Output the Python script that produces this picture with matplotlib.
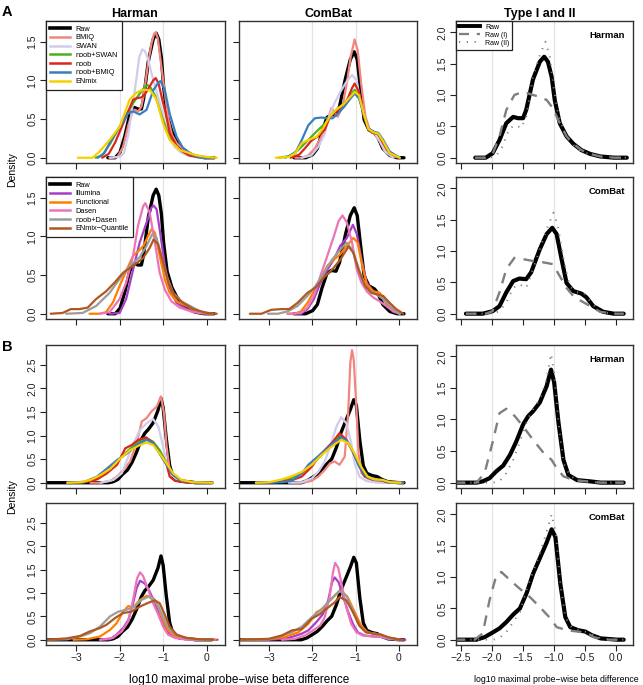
import matplotlib.pyplot as plt
from matplotlib.lines import Line2D

plt.rcParams['font.family'] = ['Liberation Sans', 'DejaVu Sans']
plt.rcParams['axes.unicode_minus'] = True

# ---------------- data: (log10 diff, density) ----------------
# Raw, set A (Harman / ComBat) with type I / type II probes
raw_harman_a = [(-2.27, 0), (-2.1, 0.0), (-1.99, 0.07), (-1.88, 0.28), (-1.77, 0.55), (-1.66, 0.65), (-1.58, 0.63),
                (-1.5, 0.63), (-1.45, 0.76), (-1.34, 1.25), (-1.23, 1.53), (-1.16, 1.61), (-1.1, 1.53), (-1.04, 1.29),
                (-0.99, 0.92), (-0.91, 0.55), (-0.8, 0.34), (-0.69, 0.22), (-0.56, 0.12), (-0.42, 0.06), (-0.26, 0.02),
                (-0.04, 0.0), (0.17, 0.0)]
raw_harman_a_i = [(-2.27, 0), (-2.1, 0.0), (-1.99, 0.06), (-1.88, 0.34), (-1.77, 0.76), (-1.64, 1.0), (-1.5, 1.05),
                  (-1.34, 1.0), (-1.23, 0.97), (-1.12, 0.92), (-1.02, 0.79), (-0.91, 0.55), (-0.8, 0.34), (-0.69, 0.22),
                  (-0.56, 0.12), (-0.42, 0.06), (-0.26, 0.02), (-0.04, 0.0), (0.17, 0.0)]
raw_harman_a_ii = [(-2.27, 0), (-2.05, 0.0), (-1.94, 0.02), (-1.83, 0.18), (-1.72, 0.47), (-1.61, 0.52), (-1.53, 0.47),
                   (-1.45, 0.65), (-1.34, 1.29), (-1.23, 1.64), (-1.14, 1.85), (-1.07, 1.61), (-1.01, 1.13),
                   (-0.94, 0.71), (-0.85, 0.44), (-0.75, 0.26), (-0.6, 0.12), (-0.42, 0.05), (-0.2, 0.01), (0.17, 0.0)]
raw_combat_a = [(-2.42, 0), (-2.15, 0.0), (-1.99, 0.04), (-1.88, 0.12), (-1.77, 0.34), (-1.66, 0.52), (-1.56, 0.56),
                (-1.45, 0.55), (-1.37, 0.66), (-1.23, 1.03), (-1.12, 1.27), (-1.03, 1.37), (-0.96, 1.27), (-0.88, 0.87),
                (-0.8, 0.49), (-0.69, 0.36), (-0.56, 0.32), (-0.48, 0.26), (-0.37, 0.12), (-0.21, 0.03), (-0.04, 0.0),
                (0.12, 0.0)]
raw_combat_a_i = [(-2.42, 0), (-2.1, 0.0), (-1.99, 0.04), (-1.88, 0.34), (-1.77, 0.71), (-1.64, 0.89), (-1.5, 0.87),
                  (-1.34, 0.84), (-1.18, 0.82), (-1.02, 0.79), (-0.91, 0.6), (-0.8, 0.41), (-0.69, 0.28), (-0.56, 0.2),
                  (-0.42, 0.12), (-0.26, 0.03), (-0.04, 0.0), (0.12, 0.0)]
raw_combat_a_ii = [(-2.42, 0), (-2.0, 0.0), (-1.88, 0.04), (-1.77, 0.18), (-1.66, 0.41), (-1.56, 0.47), (-1.45, 0.41),
                   (-1.34, 0.71), (-1.23, 1.03), (-1.1, 1.4), (-1.01, 1.61), (-0.94, 1.4), (-0.85, 0.87), (-0.75, 0.44),
                   (-0.64, 0.34), (-0.53, 0.34), (-0.42, 0.2), (-0.26, 0.03), (-0.04, 0.0), (0.12, 0.0)]

# Raw, set B
raw_harman_b = [(-3.7, 0), (-2.25, 0.0), (-2.15, 0.02), (-2.04, 0.07), (-1.93, 0.18), (-1.82, 0.27), (-1.71, 0.44),
                (-1.61, 0.65), (-1.5, 0.92), (-1.42, 1.05), (-1.34, 1.13), (-1.23, 1.27), (-1.12, 1.53), (-1.05, 1.79),
                (-1.0, 1.59), (-0.93, 0.95), (-0.85, 0.36), (-0.77, 0.12), (-0.63, 0.04), (-0.42, 0.02), (-0.25, 0.0),
                (0.12, 0.0)]
raw_harman_b_i = [(-2.6, 0), (-2.25, 0.0), (-2.12, 0.15), (-1.98, 0.68), (-1.88, 1.1), (-1.77, 1.17), (-1.63, 1.05),
                  (-1.5, 0.89), (-1.34, 0.68), (-1.17, 0.47), (-1.04, 0.36), (-0.96, 0.23), (-0.85, 0.1), (-0.69, 0.04),
                  (-0.47, 0.02), (-0.25, 0.0), (0.12, 0.0)]
raw_harman_b_ii = [(-2.6, 0), (-1.98, 0.0), (-1.88, 0.02), (-1.77, 0.15), (-1.66, 0.36), (-1.55, 0.65), (-1.44, 0.97),
                   (-1.34, 1.16), (-1.23, 1.32), (-1.12, 1.64), (-1.05, 2.04), (-1.0, 1.74), (-0.93, 0.95),
                   (-0.85, 0.31), (-0.74, 0.1), (-0.58, 0.03), (-0.3, 0.0), (0.12, 0.0)]
raw_combat_b = [(-3.7, 0), (-2.25, 0.0), (-2.12, 0.04), (-1.98, 0.12), (-1.88, 0.18), (-1.77, 0.28), (-1.66, 0.4),
                (-1.55, 0.5), (-1.44, 0.75), (-1.34, 1.05), (-1.23, 1.3), (-1.12, 1.55), (-1.04, 1.76), (-0.98, 1.64),
                (-0.9, 0.89), (-0.82, 0.36), (-0.74, 0.2), (-0.61, 0.15), (-0.5, 0.13), (-0.39, 0.07), (-0.25, 0.02),
                (0.02, 0.0), (0.12, 0.0)]
raw_combat_b_i = [(-2.6, 0), (-2.28, 0.0), (-2.15, 0.1), (-2.04, 0.63), (-1.93, 1.03), (-1.85, 1.08), (-1.71, 0.95),
                  (-1.55, 0.81), (-1.39, 0.68), (-1.23, 0.52), (-1.06, 0.34), (-0.96, 0.2), (-0.79, 0.15),
                  (-0.63, 0.13), (-0.47, 0.11), (-0.36, 0.04), (-0.2, 0.0), (0.12, 0.0)]
raw_combat_b_ii = [(-2.6, 0), (-1.98, 0.0), (-1.88, 0.03), (-1.77, 0.12), (-1.66, 0.28), (-1.55, 0.44), (-1.44, 0.81),
                   (-1.34, 1.08), (-1.23, 1.37), (-1.12, 1.72), (-1.04, 2.0), (-0.97, 1.69), (-0.9, 0.89),
                   (-0.82, 0.36), (-0.71, 0.18), (-0.58, 0.15), (-0.47, 0.12), (-0.31, 0.04), (-0.1, 0.0), (0.12, 0.0)]

# method group 1, set A
bmiq_harman_a = [(-2.23, 0), (-2.05, 0.01), (-1.92, 0.14), (-1.8, 0.42), (-1.7, 0.6), (-1.65, 0.62), (-1.57, 0.6),
                 (-1.5, 0.66), (-1.45, 0.8), (-1.35, 1.2), (-1.27, 1.47), (-1.21, 1.6), (-1.17, 1.62), (-1.12, 1.54),
                 (-1.05, 1.22), (-0.96, 0.83), (-0.88, 0.5), (-0.8, 0.3), (-0.69, 0.19), (-0.55, 0.11), (-0.46, 0.07),
                 (-0.3, 0.02), (-0.15, 0.0), (0.15, 0.0)]
swan_harman_a = [(-2.23, 0), (-2.0, 0.01), (-1.9, 0.06), (-1.8, 0.3), (-1.72, 0.6), (-1.62, 1.0), (-1.55, 1.3),
                 (-1.48, 1.4), (-1.42, 1.38), (-1.35, 1.28), (-1.27, 1.1), (-1.2, 0.95), (-1.12, 0.8), (-1.05, 0.65),
                 (-0.96, 0.45), (-0.88, 0.3), (-0.75, 0.15), (-0.6, 0.07), (-0.45, 0.03), (-0.3, 0.01), (-0.15, 0.0),
                 (0.15, 0.0)]
noobswan_harman_a = [(-2.55, 0), (-2.4, 0.03), (-2.23, 0.17), (-2.0, 0.4), (-1.85, 0.55), (-1.7, 0.7), (-1.55, 0.82),
                     (-1.42, 0.92), (-1.36, 0.94), (-1.28, 0.9), (-1.18, 0.8), (-1.08, 0.62), (-0.98, 0.45),
                     (-0.88, 0.3), (-0.75, 0.18), (-0.6, 0.1), (-0.45, 0.05), (-0.3, 0.02), (-0.1, 0.0), (0.15, 0.0)]
noob_harman_a = [(-2.4, 0), (-2.25, 0.05), (-2.1, 0.2), (-1.95, 0.4), (-1.8, 0.6), (-1.69, 0.75), (-1.6, 0.77),
                 (-1.5, 0.78), (-1.42, 0.82), (-1.31, 0.92), (-1.23, 1.0), (-1.17, 1.03), (-1.1, 0.95), (-1.02, 0.75),
                 (-0.96, 0.62), (-0.85, 0.32), (-0.69, 0.15), (-0.55, 0.08), (-0.4, 0.03), (-0.2, 0.01), (0.15, 0.0)]
noobbmiq_harman_a = [(-2.5, 0), (-2.35, 0.06), (-2.23, 0.19), (-2.0, 0.4), (-1.81, 0.57), (-1.69, 0.6), (-1.54, 0.56),
                     (-1.38, 0.62), (-1.23, 0.87), (-1.1, 0.98), (-1.06, 0.99), (-0.96, 0.87), (-0.85, 0.57),
                     (-0.69, 0.27), (-0.55, 0.13), (-0.46, 0.09), (-0.3, 0.03), (-0.1, 0.0), (0.15, 0.0)]
enmix_harman_a = [(-2.96, 0), (-2.62, 0.0), (-2.46, 0.08), (-2.23, 0.23), (-2.0, 0.4), (-1.77, 0.75), (-1.62, 0.84),
                  (-1.46, 0.88), (-1.3, 0.87), (-1.27, 0.85), (-1.15, 0.75), (-1.0, 0.44), (-0.85, 0.23),
                  (-0.62, 0.1), (-0.23, 0.03), (0.0, 0.01), (0.23, 0.0)]

bmiq_combat_a = [(-2.39, 0), (-2.24, 0.0), (-2.09, 0.03), (-1.94, 0.12), (-1.79, 0.27), (-1.68, 0.42), (-1.56, 0.64),
                 (-1.49, 0.59), (-1.41, 0.53), (-1.3, 0.66), (-1.19, 1.0), (-1.11, 1.31), (-1.02, 1.53), (-0.95, 1.39),
                 (-0.87, 0.96), (-0.77, 0.53), (-0.66, 0.34), (-0.55, 0.31), (-0.44, 0.23), (-0.32, 0.1),
                 (-0.17, 0.02), (0.02, 0.0)]
swan_combat_a = [(-2.24, 0), (-2.02, 0.03), (-1.86, 0.14), (-1.71, 0.31), (-1.6, 0.55), (-1.49, 0.7), (-1.34, 0.86),
                 (-1.19, 1.0), (-1.08, 1.07), (-0.98, 1.0), (-0.89, 0.75), (-0.77, 0.49), (-0.66, 0.34), (-0.55, 0.31),
                 (-0.44, 0.21), (-0.32, 0.08), (-0.13, 0.0)]
noobswan_combat_a = [(-2.77, 0), (-2.54, 0.02), (-2.32, 0.1), (-2.09, 0.23), (-1.9, 0.34), (-1.71, 0.44),
                     (-1.56, 0.55), (-1.41, 0.64), (-1.26, 0.7), (-1.11, 0.81), (-1.02, 0.88), (-0.92, 0.79),
                     (-0.81, 0.55), (-0.7, 0.36), (-0.59, 0.32), (-0.47, 0.31), (-0.36, 0.19), (-0.21, 0.06),
                     (0.02, 0.0)]
noob_combat_a = [(-2.5, 0), (-2.3, 0.04), (-2.17, 0.12), (-2.02, 0.22), (-1.86, 0.28), (-1.71, 0.36), (-1.6, 0.52),
                 (-1.49, 0.58), (-1.34, 0.64), (-1.19, 0.75), (-1.08, 0.9), (-1.02, 0.96), (-0.92, 0.85),
                 (-0.81, 0.55), (-0.7, 0.36), (-0.59, 0.32), (-0.47, 0.31), (-0.36, 0.19), (-0.21, 0.06), (0.02, 0.0)]
noobbmiq_combat_a = [(-2.62, 0), (-2.39, 0.06), (-2.24, 0.23), (-2.09, 0.42), (-1.94, 0.51), (-1.79, 0.52),
                     (-1.64, 0.51), (-1.53, 0.51), (-1.41, 0.57), (-1.26, 0.66), (-1.11, 0.77), (-1.02, 0.83),
                     (-0.92, 0.77), (-0.81, 0.57), (-0.7, 0.38), (-0.59, 0.34), (-0.47, 0.32), (-0.36, 0.23),
                     (-0.21, 0.08), (0.02, 0.0)]
enmix_combat_a = [(-2.84, 0), (-2.54, 0.01), (-2.39, 0.06), (-2.24, 0.19), (-2.09, 0.23), (-1.9, 0.27), (-1.75, 0.38),
                  (-1.6, 0.53), (-1.45, 0.62), (-1.3, 0.68), (-1.15, 0.77), (-1.02, 0.85), (-0.92, 0.81),
                  (-0.81, 0.57), (-0.7, 0.37), (-0.59, 0.33), (-0.47, 0.31), (-0.36, 0.21), (-0.21, 0.06), (0.02, 0.0)]

# method group 2, set A
illumina_harman_a = [(-2.23, 0), (-2.0, 0.01), (-1.85, 0.19), (-1.69, 0.57), (-1.54, 0.92), (-1.38, 1.18),
                     (-1.27, 1.37), (-1.22, 1.4), (-1.15, 1.35), (-1.08, 1.09), (-0.96, 0.62), (-0.85, 0.31),
                     (-0.69, 0.14), (-0.46, 0.06), (-0.15, 0.01), (0.15, 0.0)]
functional_harman_a = [(-2.69, 0), (-2.46, 0.0), (-2.31, 0.02), (-2.15, 0.15), (-2.0, 0.36), (-1.85, 0.55),
                       (-1.69, 0.75), (-1.55, 0.82), (-1.45, 0.88), (-1.35, 1.0), (-1.27, 1.09), (-1.19, 1.05),
                       (-1.08, 0.75), (-0.96, 0.44), (-0.85, 0.27), (-0.69, 0.16), (-0.46, 0.1), (-0.23, 0.03),
                       (0.08, 0.0)]
dasen_harman_a = [(-2.46, 0), (-2.23, 0.02), (-2.0, 0.19), (-1.85, 0.4), (-1.69, 0.75), (-1.58, 1.13), (-1.46, 1.39),
                  (-1.41, 1.43), (-1.31, 1.31), (-1.19, 0.92), (-1.08, 0.53), (-0.96, 0.31), (-0.81, 0.16),
                  (-0.62, 0.08), (-0.31, 0.02), (0.0, 0.0)]
noobdasen_harman_a = [(-3.23, 0), (-2.85, 0.01), (-2.54, 0.1), (-2.23, 0.27), (-2.0, 0.45), (-1.77, 0.62),
                      (-1.54, 0.73), (-1.38, 0.88), (-1.25, 1.03), (-1.15, 0.98), (-1.04, 0.75), (-0.92, 0.49),
                      (-0.77, 0.27), (-0.58, 0.16), (-0.38, 0.1), (-0.15, 0.03), (0.15, 0.0)]
enmixq_harman_a = [(-3.58, 0), (-3.31, 0.01), (-3.12, 0.06), (-2.92, 0.06), (-2.73, 0.08), (-2.54, 0.19),
                   (-2.31, 0.29), (-2.12, 0.4), (-1.92, 0.53), (-1.69, 0.62), (-1.46, 0.72), (-1.31, 0.85),
                   (-1.22, 0.96), (-1.12, 0.9), (-1.0, 0.66), (-0.88, 0.4), (-0.73, 0.23), (-0.54, 0.14),
                   (-0.31, 0.06), (0.0, 0.01), (0.23, 0.0)]

illumina_combat_a = [(-2.41, 0), (-2.26, 0.0), (-2.11, 0.06), (-1.96, 0.19), (-1.81, 0.4), (-1.65, 0.57),
                     (-1.5, 0.7), (-1.35, 0.88), (-1.2, 0.98), (-1.06, 1.15), (-0.97, 1.03), (-0.86, 0.7),
                     (-0.74, 0.4), (-0.59, 0.29), (-0.44, 0.25), (-0.29, 0.14), (-0.13, 0.03), (0.02, 0.0)]
functional_combat_a = [(-2.57, 0), (-2.41, 0.0), (-2.26, 0.03), (-2.11, 0.14), (-1.96, 0.29), (-1.81, 0.44),
                       (-1.65, 0.62), (-1.5, 0.7), (-1.35, 0.77), (-1.2, 0.88), (-1.05, 0.98), (-0.95, 0.92),
                       (-0.86, 0.66), (-0.74, 0.38), (-0.59, 0.29), (-0.44, 0.27), (-0.29, 0.14), (-0.13, 0.05),
                       (0.02, 0.0)]
dasen_combat_a = [(-2.57, 0), (-2.26, 0.01), (-2.11, 0.08), (-1.96, 0.23), (-1.81, 0.49), (-1.65, 0.75), (-1.5, 1.0),
                  (-1.39, 1.2), (-1.3, 1.27), (-1.2, 1.18), (-1.08, 0.92), (-0.97, 0.57), (-0.86, 0.4), (-0.74, 0.29),
                  (-0.59, 0.21), (-0.44, 0.16), (-0.29, 0.1), (-0.13, 0.03), (0.02, 0.0)]
noobdasen_combat_a = [(-3.02, 0), (-2.79, 0.0), (-2.57, 0.03), (-2.34, 0.1), (-2.11, 0.23), (-1.92, 0.36),
                      (-1.73, 0.53), (-1.54, 0.7), (-1.35, 0.83), (-1.21, 0.92), (-1.08, 0.83), (-0.97, 0.66),
                      (-0.82, 0.4), (-0.67, 0.29), (-0.51, 0.25), (-0.36, 0.19), (-0.17, 0.08), (0.02, 0.0)]
enmixq_combat_a = [(-3.44, 0), (-3.17, 0.0), (-2.95, 0.05), (-2.72, 0.06), (-2.53, 0.06), (-2.34, 0.14),
                   (-2.11, 0.27), (-1.92, 0.34), (-1.73, 0.47), (-1.54, 0.57), (-1.35, 0.7), (-1.16, 0.87),
                   (-1.05, 0.79), (-0.93, 0.57), (-0.78, 0.36), (-0.63, 0.27), (-0.51, 0.25), (-0.36, 0.23),
                   (-0.21, 0.14), (-0.06, 0.06), (0.1, 0.0)]

# method group 1, set B
bmiq_harman_b = [(-2.67, 0), (-2.44, 0.0), (-2.21, 0.04), (-2.06, 0.13), (-1.91, 0.27), (-1.76, 0.45), (-1.61, 0.84),
                 (-1.49, 1.3), (-1.38, 1.37), (-1.27, 1.51), (-1.15, 1.61), (-1.05, 1.83), (-0.98, 1.47),
                 (-0.92, 0.76), (-0.85, 0.27), (-0.73, 0.09), (-0.55, 0.02), (-0.25, 0.0), (0.12, 0.0)]
swan_harman_b = [(-2.44, 0), (-2.14, 0.06), (-1.95, 0.2), (-1.8, 0.55), (-1.68, 0.84), (-1.53, 1.12), (-1.38, 1.26),
                 (-1.23, 1.35), (-1.11, 1.19), (-1.0, 0.76), (-0.92, 0.41), (-0.81, 0.16), (-0.62, 0.04),
                 (-0.32, 0.0)]
noobswan_harman_b = [(-3.2, 0), (-2.82, 0.01), (-2.52, 0.09), (-2.29, 0.27), (-2.06, 0.45), (-1.83, 0.66),
                     (-1.61, 0.84), (-1.38, 0.94), (-1.23, 0.87), (-1.08, 0.69), (-0.92, 0.41), (-0.81, 0.2),
                     (-0.62, 0.06), (-0.32, 0.01), (0.14, 0.0)]
noob_harman_b = [(-3.2, 0), (-2.8, 0.01), (-2.52, 0.07), (-2.29, 0.2), (-2.06, 0.38), (-1.87, 0.73), (-1.72, 0.8),
                 (-1.57, 0.91), (-1.39, 0.96), (-1.23, 0.84), (-1.08, 0.62), (-0.92, 0.38), (-0.85, 0.13),
                 (-0.73, 0.04), (-0.46, 0.0), (0.14, 0.0)]
noobbmiq_harman_b = [(-3.2, 0), (-2.8, 0.02), (-2.52, 0.13), (-2.29, 0.3), (-2.06, 0.48), (-1.83, 0.62),
                     (-1.61, 0.8), (-1.38, 0.91), (-1.23, 0.84), (-1.08, 0.62), (-0.92, 0.38), (-0.77, 0.16),
                     (-0.58, 0.04), (-0.2, 0.0), (0.14, 0.0)]
enmix_harman_b = [(-3.2, 0), (-2.89, 0.01), (-2.67, 0.06), (-2.44, 0.16), (-2.21, 0.3), (-1.98, 0.52), (-1.76, 0.69),
                  (-1.53, 0.8), (-1.38, 0.85), (-1.23, 0.8), (-1.08, 0.62), (-0.92, 0.41), (-0.77, 0.2),
                  (-0.58, 0.06), (-0.32, 0.01), (0.14, 0.0)]

bmiq_combat_b = [(-2.47, 0), (-2.24, 0.0), (-2.01, 0.04), (-1.86, 0.13), (-1.71, 0.27), (-1.59, 0.41), (-1.48, 0.45),
                 (-1.37, 0.38), (-1.25, 0.55), (-1.17, 1.47), (-1.12, 2.54), (-1.08, 2.81), (-1.04, 2.6),
                 (-0.98, 1.61), (-0.93, 0.62), (-0.86, 0.2), (-0.72, 0.09), (-0.57, 0.04), (-0.34, 0.0), (0.1, 0.0)]
swan_combat_b = [(-2.54, 0), (-2.24, 0.01), (-2.01, 0.09), (-1.86, 0.23), (-1.71, 0.45), (-1.56, 0.84), (-1.44, 1.19),
                 (-1.33, 1.39), (-1.21, 1.26), (-1.1, 0.84), (-1.02, 0.41), (-0.91, 0.13), (-0.76, 0.04),
                 (-0.5, 0.0), (0.1, 0.0)]
noobswan_combat_b = [(-3.3, 0), (-2.85, 0.01), (-2.54, 0.07), (-2.24, 0.2), (-2.01, 0.38), (-1.78, 0.59),
                     (-1.56, 0.8), (-1.37, 1.01), (-1.21, 0.91), (-1.06, 0.66), (-0.91, 0.34), (-0.76, 0.13),
                     (-0.57, 0.06), (-0.41, 0.06), (-0.26, 0.01), (0.1, 0.0)]
noob_combat_b = [(-3.3, 0), (-2.7, 0.02), (-2.45, 0.06), (-2.24, 0.13), (-2.01, 0.34), (-1.82, 0.59), (-1.67, 0.73),
                 (-1.52, 0.87), (-1.37, 1.05), (-1.21, 0.91), (-1.06, 0.66), (-0.91, 0.34), (-0.79, 0.13),
                 (-0.57, 0.06), (-0.41, 0.05), (-0.26, 0.01), (0.1, 0.0)]
noobbmiq_combat_b = [(-3.3, 0), (-2.7, 0.01), (-2.47, 0.04), (-2.24, 0.2), (-2.09, 0.38), (-1.9, 0.53),
                     (-1.71, 0.68), (-1.52, 0.84), (-1.33, 0.96), (-1.21, 0.9), (-1.06, 0.66), (-0.91, 0.34),
                     (-0.76, 0.13), (-0.57, 0.06), (-0.41, 0.06), (-0.26, 0.01), (0.1, 0.0)]
enmix_combat_b = [(-3.3, 0), (-3.0, 0.01), (-2.7, 0.07), (-2.47, 0.14), (-2.24, 0.23), (-2.01, 0.38), (-1.78, 0.59),
                  (-1.56, 0.76), (-1.33, 0.91), (-1.17, 0.84), (-1.02, 0.62), (-0.87, 0.34), (-0.72, 0.13),
                  (-0.57, 0.07), (-0.38, 0.06), (-0.19, 0.01), (0.04, 0.0)]

# method group 2, set B
illumina_harman_b = [(-2.45, 0), (-2.22, 0.01), (-2.07, 0.11), (-1.92, 0.25), (-1.8, 0.42), (-1.69, 0.78),
                     (-1.61, 1.1), (-1.53, 1.26), (-1.42, 1.2), (-1.31, 1.03), (-1.19, 0.78), (-1.08, 0.5),
                     (-0.96, 0.25), (-0.85, 0.11), (-0.69, 0.04), (-0.47, 0.01), (-0.16, 0.0), (0.25, 0.0)]
functional_harman_b = [(-3.06, 0), (-2.76, 0.01), (-2.45, 0.07), (-2.22, 0.21), (-2.07, 0.35), (-1.92, 0.6),
                       (-1.8, 0.72), (-1.69, 0.69), (-1.53, 0.85), (-1.38, 0.94), (-1.23, 0.89), (-1.11, 0.71),
                       (-1.0, 0.42), (-0.89, 0.21), (-0.73, 0.08), (-0.47, 0.03), (-0.05, 0.0), (0.2, 0.0)]
dasen_harman_b = [(-2.45, 0), (-2.15, 0.04), (-1.95, 0.18), (-1.8, 0.39), (-1.69, 0.85), (-1.6, 1.31), (-1.53, 1.44),
                  (-1.46, 1.36), (-1.34, 1.06), (-1.23, 0.78), (-1.11, 0.53), (-1.0, 0.28), (-0.89, 0.11),
                  (-0.73, 0.04), (-0.47, 0.0), (0.1, 0.0)]
noobdasen_harman_b = [(-3.67, 0), (-3.21, 0.01), (-2.91, 0.07), (-2.68, 0.14), (-2.45, 0.28), (-2.22, 0.5),
                      (-2.03, 0.6), (-1.84, 0.64), (-1.65, 0.71), (-1.5, 0.85), (-1.34, 0.92), (-1.19, 0.85),
                      (-1.04, 0.57), (-0.92, 0.32), (-0.77, 0.14), (-0.58, 0.06), (-0.31, 0.01), (0.15, 0.0)]
enmixq_harman_b = [(-3.67, 0), (-3.21, 0.03), (-2.91, 0.08), (-2.68, 0.18), (-2.45, 0.25), (-2.3, 0.32),
                   (-2.11, 0.46), (-1.92, 0.57), (-1.73, 0.6), (-1.53, 0.71), (-1.34, 0.79), (-1.19, 0.84),
                   (-1.08, 0.78), (-0.96, 0.53), (-0.85, 0.28), (-0.69, 0.11), (-0.47, 0.04), (-0.16, 0.01),
                   (0.15, 0.0)]

illumina_combat_b = [(-3.64, 0), (-3.0, 0.0), (-2.7, 0.02), (-2.47, 0.06), (-2.24, 0.13), (-2.09, 0.2), (-1.9, 0.38),
                     (-1.75, 0.55), (-1.63, 0.84), (-1.54, 1.23), (-1.48, 1.33), (-1.39, 1.23), (-1.29, 0.94),
                     (-1.18, 0.62), (-1.06, 0.34), (-0.95, 0.16), (-0.79, 0.09), (-0.56, 0.07), (-0.41, 0.06),
                     (-0.26, 0.02), (0.05, 0.0), (0.15, 0.0)]
functional_combat_b = [(-3.64, 0), (-3.0, 0.01), (-2.63, 0.06), (-2.32, 0.16), (-2.09, 0.34), (-1.9, 0.59),
                       (-1.75, 0.66), (-1.6, 0.84), (-1.44, 0.98), (-1.33, 1.05), (-1.18, 0.91), (-1.02, 0.59),
                       (-0.87, 0.3), (-0.72, 0.16), (-0.56, 0.13), (-0.41, 0.09), (-0.26, 0.04), (0.0, 0.0)]
dasen_combat_b = [(-2.7, 0), (-2.4, 0.02), (-2.17, 0.09), (-1.98, 0.2), (-1.82, 0.3), (-1.71, 0.48), (-1.6, 0.91),
                  (-1.52, 1.44), (-1.47, 1.64), (-1.4, 1.54), (-1.33, 1.23), (-1.21, 0.69), (-1.1, 0.34),
                  (-0.98, 0.16), (-0.83, 0.09), (-0.6, 0.07), (-0.41, 0.06), (-0.22, 0.02), (0.05, 0.0)]
noobdasen_combat_b = [(-3.64, 0), (-3.0, 0.01), (-2.7, 0.09), (-2.47, 0.16), (-2.24, 0.28), (-2.01, 0.48),
                      (-1.82, 0.62), (-1.63, 0.8), (-1.48, 0.94), (-1.37, 1.05), (-1.21, 0.94), (-1.06, 0.62),
                      (-0.91, 0.3), (-0.76, 0.16), (-0.56, 0.13), (-0.41, 0.11), (-0.26, 0.04), (0.0, 0.0)]
enmixq_combat_b = [(-3.64, 0), (-3.0, 0.02), (-2.7, 0.09), (-2.47, 0.2), (-2.24, 0.23), (-2.01, 0.45), (-1.82, 0.55),
                   (-1.63, 0.69), (-1.48, 0.8), (-1.37, 0.91), (-1.21, 0.84), (-1.06, 0.59), (-0.91, 0.3),
                   (-0.76, 0.16), (-0.56, 0.13), (-0.41, 0.11), (-0.26, 0.06), (0.0, 0.0), (0.1, 0.0)]

labels_1 = ['Raw', 'BMIQ', 'SWAN', 'noob+SWAN', 'noob', 'noob+BMIQ', 'ENmix']
colors_1 = ['black', '#F4857E', '#CFCDEB', '#4DB01F', '#D9261F', '#3A7EC0', '#F7D000']
labels_2 = ['Raw', 'Illumina', 'Functional', 'Dasen', 'noob+Dasen', 'ENmix\u2212Quantile']
colors_2 = ['black', '#A83EC6', '#FF7F00', '#EC74B8', '#9C9C9C', '#B0581F']

# ---------------- layout (pixel boxes) ----------------
W, H = 643, 685
fig = plt.figure(figsize=(W / 100, H / 100), dpi=100)

cols = [(46, 225), (239, 417), (456, 633)]
rows = [(21, 163), (177, 319), (345, 488), (503, 645)]


def make_ax(c, r):
    x0, x1 = cols[c]
    y0, y1 = rows[r]
    return fig.add_axes([x0 / W, 1 - y1 / H, (x1 - x0) / W, (y1 - y0) / H])


def minus(v, fmt):
    return (fmt % v).replace('-', '\u2212')


def style(ax, xlim, ylim, xticks, yticks, show_x, show_y, xfmt):
    ax.set_xlim(xlim)
    ax.set_ylim(ylim)
    for gx in (-2, -1):
        ax.axvline(gx, color='#E4E4E4', lw=0.9, zorder=0)
    ax.set_xticks(xticks)
    ax.set_yticks(yticks)
    ax.tick_params(direction='out', length=4, width=0.8, labelsize=7.5, pad=2, colors='#222222')
    if show_x:
        ax.set_xticklabels([minus(v, xfmt) for v in xticks])
    else:
        ax.set_xticklabels([])
    if show_y:
        ax.set_yticklabels(['%.1f' % v for v in yticks], rotation=90, va='center')
    else:
        ax.set_yticklabels([])
    for s in ax.spines.values():
        s.set_linewidth(1.0)
        s.set_color('#333333')


def line(ax, pts, color, lw, ls='-'):
    xs, ys = zip(*pts)
    ax.plot(xs, ys, color=color, lw=lw, ls=ls, solid_capstyle='round', solid_joinstyle='round')


left_panels = [
    (0, 0, raw_harman_a, [bmiq_harman_a, swan_harman_a, noobswan_harman_a, noob_harman_a, noobbmiq_harman_a,
                          enmix_harman_a], 1, True),
    (0, 1, raw_combat_a, [bmiq_combat_a, swan_combat_a, noobswan_combat_a, noob_combat_a, noobbmiq_combat_a,
                          enmix_combat_a], 1, False),
    (1, 0, raw_harman_a, [illumina_harman_a, functional_harman_a, dasen_harman_a, noobdasen_harman_a,
                          enmixq_harman_a], 2, True),
    (1, 1, raw_combat_a, [illumina_combat_a, functional_combat_a, dasen_combat_a, noobdasen_combat_a,
                          enmixq_combat_a], 2, False),
    (2, 0, raw_harman_b, [bmiq_harman_b, swan_harman_b, noobswan_harman_b, noob_harman_b, noobbmiq_harman_b,
                          enmix_harman_b], 1, False),
    (2, 1, raw_combat_b, [bmiq_combat_b, swan_combat_b, noobswan_combat_b, noob_combat_b, noobbmiq_combat_b,
                          enmix_combat_b], 1, False),
    (3, 0, raw_harman_b, [illumina_harman_b, functional_harman_b, dasen_harman_b, noobdasen_harman_b,
                          enmixq_harman_b], 2, False),
    (3, 1, raw_combat_b, [illumina_combat_b, functional_combat_b, dasen_combat_b, noobdasen_combat_b,
                          enmixq_combat_b], 2, False),
]

for r, c, raw, others, grp, legend in left_panels:
    ax = make_ax(c, r)
    colors = colors_1 if grp == 1 else colors_2
    labels = labels_1 if grp == 1 else labels_2
    line(ax, raw, 'black', 2.4)
    for pts, col in zip(others, colors[1:]):
        line(ax, pts, col, 1.6)
    if r < 2:
        style(ax, (-3.69, 0.42), (-0.068, 1.768), [-3, -2, -1, 0], [0, 0.5, 1.0, 1.5], False, c == 0, '%d')
    else:
        style(ax, (-3.69, 0.42), (-0.112, 2.92), [-3, -2, -1, 0], [0, 0.5, 1.0, 1.5, 2.0, 2.5], r == 3, c == 0, '%d')
    if legend:
        handles = [Line2D([], [], color=colors[0], lw=2.6)] + [Line2D([], [], color=col, lw=1.8) for col in colors[1:]]
        lg = ax.legend(handles, labels, loc='upper left', fontsize=5.3, frameon=True, fancybox=False,
                       edgecolor='#222222', framealpha=1, borderaxespad=0, handlelength=2.6, handletextpad=0.8,
                       labelspacing=0.22, borderpad=0.6)
        lg.get_frame().set_linewidth(0.9)

type_panels = [
    (0, 'Harman', raw_harman_a, raw_harman_a_i, raw_harman_a_ii, True),
    (1, 'ComBat', raw_combat_a, raw_combat_a_i, raw_combat_a_ii, False),
    (2, 'Harman', raw_harman_b, raw_harman_b_i, raw_harman_b_ii, False),
    (3, 'ComBat', raw_combat_b, raw_combat_b_i, raw_combat_b_ii, False),
]
for r, name, raw, raw_i, raw_ii, legend in type_panels:
    ax = make_ax(2, r)
    line(ax, raw, 'black', 3.0)
    xs, ys = zip(*raw_i)
    ax.plot(xs, ys, color='#7F7F7F', lw=1.7, ls=(0, (4.5, 3.5)))
    xs, ys = zip(*raw_ii)
    ax.plot(xs, ys, color='#7F7F7F', lw=1.4, ls=(0, (0.6, 3.4)))
    style(ax, (-2.58, 0.27), (-0.085, 2.18), [-2.5, -2.0, -1.5, -1.0, -0.5, 0.0], [0, 0.5, 1.0, 1.5, 2.0],
          r == 3, True, '%.1f')
    ax.text(0.955, 0.93, name, transform=ax.transAxes, ha='right', va='top', fontsize=6.8, fontweight='bold')
    if legend:
        handles = [Line2D([], [], color='black', lw=2.8),
                   Line2D([], [], color='#7F7F7F', lw=1.6, ls=(0, (4.5, 3.5))),
                   Line2D([], [], color='#7F7F7F', lw=1.4, ls=(0, (0.6, 3.4)))]
        lg = ax.legend(handles, ['Raw', 'Raw (I)', 'Raw (II)'], loc='upper left', fontsize=5.0, frameon=True,
                       fancybox=False, edgecolor='#222222', framealpha=1, borderaxespad=0, handlelength=3.0,
                       handletextpad=0.8, labelspacing=0.15, borderpad=0.4)
        lg.get_frame().set_linewidth(0.9)

# ---------------- titles / labels ----------------
fig.text(135 / W, 1 - 14 / H, 'Harman', ha='center', va='center', fontsize=9, fontweight='bold')
fig.text(328 / W, 1 - 14 / H, 'ComBat', ha='center', va='center', fontsize=9, fontweight='bold')
fig.text(540 / W, 1 - 14 / H, 'Type I and II', ha='center', va='center', fontsize=9, fontweight='bold')
fig.text(7 / W, 1 - 12 / H, 'A', ha='center', va='center', fontsize=10.5, fontweight='bold')
fig.text(7 / W, 1 - 347 / H, 'B', ha='center', va='center', fontsize=10.5, fontweight='bold')
fig.text(12 / W, 1 - 170 / H, 'Density', rotation=90, ha='center', va='center', fontsize=7.5)
fig.text(12 / W, 1 - 497 / H, 'Density', rotation=90, ha='center', va='center', fontsize=7.5)
fig.text(239 / W, 1 - 680 / H, 'log10 maximal probe\u2212wise beta difference', ha='center', va='center', fontsize=8.5)
fig.text(556 / W, 1 - 680 / H, 'log10 maximal probe\u2212wise beta difference', ha='center', va='center', fontsize=6.3)

fig.savefig('out.png', dpi=100)
